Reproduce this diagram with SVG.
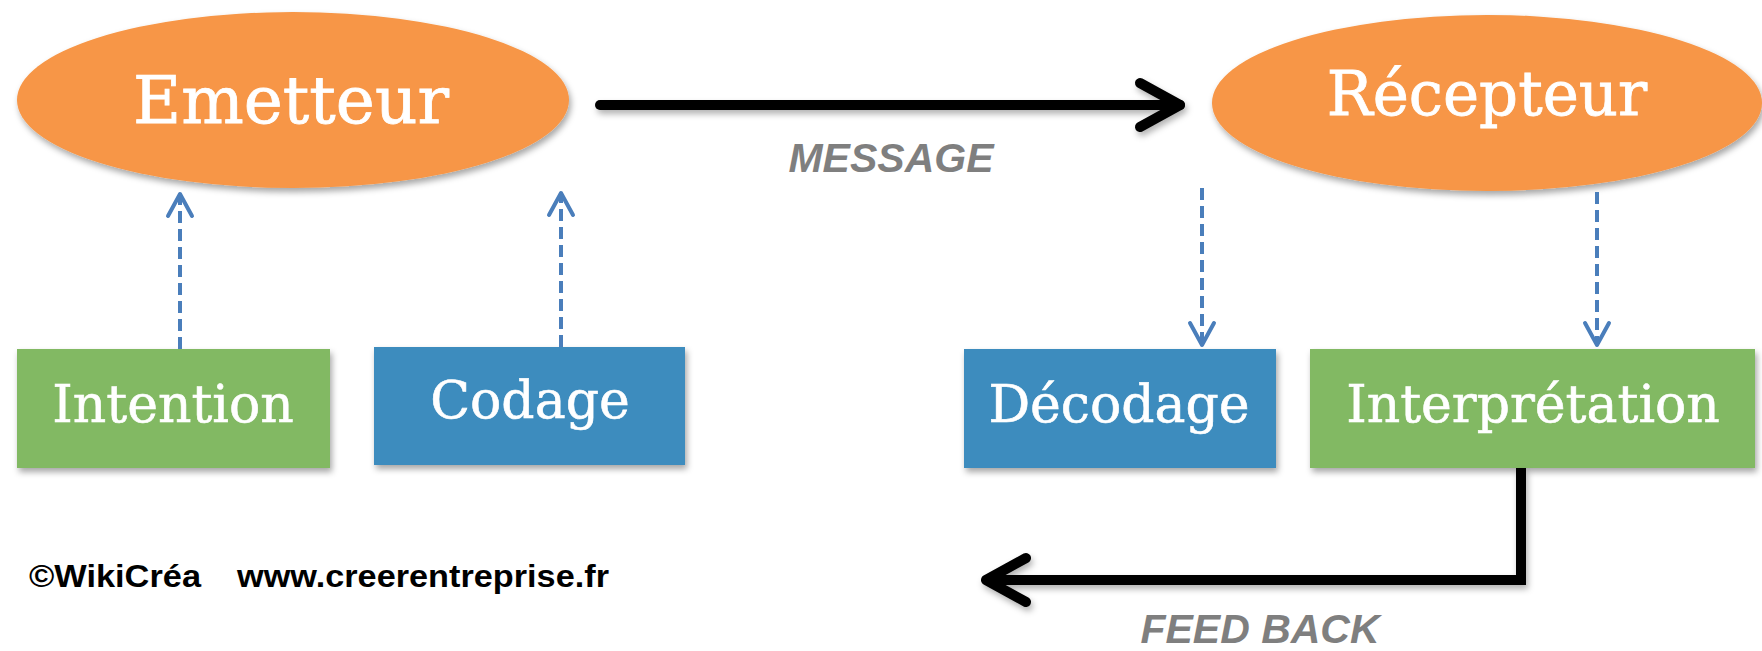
<svg xmlns="http://www.w3.org/2000/svg" width="1762" height="651" viewBox="0 0 1762 651">
<style>
.ell{fill:#f79646;filter:url(#sh)}
.box{filter:url(#sh)}
.green{fill:#82b964}
.blue{fill:#3d8cbe}
.big{font-family:"DejaVu Serif","Liberation Serif",serif;fill:#ffffff;stroke:#ffffff;stroke-width:0.8;text-anchor:middle}
.lbl{font-family:"DejaVu Serif","Liberation Serif",serif;font-size:52px;fill:#ffffff;stroke:#ffffff;stroke-width:0.6;text-anchor:middle}
.cap{font-family:"Liberation Sans",Arial,sans-serif;font-weight:bold;font-style:italic;font-size:41px;fill:#7f7f7f;text-anchor:middle}
.foot{font-family:"Liberation Sans",Arial,sans-serif;font-weight:bold;font-size:32px;fill:#000000}
.dash{stroke:#4a7ebb;stroke-width:4;stroke-dasharray:12 6;fill:none}
.thick{stroke:#000000;stroke-width:10;fill:none;filter:url(#sh2)}
</style>
<defs>
<filter id="sh" x="-10%" y="-10%" width="125%" height="130%">
<feDropShadow dx="2" dy="4" stdDeviation="3" flood-color="#000000" flood-opacity="0.35"/>
</filter>
<filter id="sh2" filterUnits="userSpaceOnUse" x="0" y="0" width="1762" height="651">
<feDropShadow dx="2" dy="4" stdDeviation="3" flood-color="#000000" flood-opacity="0.3"/>
</filter>
<marker id="blk" markerUnits="userSpaceOnUse" viewBox="-50 -30 60 60" markerWidth="60" markerHeight="60" refX="0" refY="0" orient="auto" overflow="visible">
<path d="M-40,-22 L0,0 L-40,22" fill="none" stroke="#000000" stroke-width="10" stroke-linecap="round" stroke-linejoin="round"/>
</marker>
<marker id="blu" markerUnits="userSpaceOnUse" viewBox="-30 -16 36 32" markerWidth="36" markerHeight="32" refX="0" refY="0" orient="auto" overflow="visible">
<path d="M-22,-12 L0,0 L-22,12" fill="none" stroke="#4a7ebb" stroke-width="4" stroke-linecap="round" stroke-linejoin="round"/>
</marker>
</defs>
<rect x="0" y="0" width="1762" height="651" fill="#ffffff"/>

<g id="emetteur">
<ellipse class="ell" cx="293" cy="100" rx="276" ry="88"/>
<text class="big" x="291" y="123" font-size="66">Emetteur</text>
</g>
<g id="recepteur">
<ellipse class="ell" cx="1487" cy="103" rx="275" ry="88"/>
<text class="big" x="1487" y="115" font-size="61">Récepteur</text>
</g>
<g id="intention">
<rect class="box green" x="17" y="349" width="313" height="119"/>
<text class="lbl" x="173" y="422">Intention</text>
</g>
<g id="codage">
<rect class="box blue" x="374" y="347" width="311" height="118"/>
<text class="lbl" x="530" y="418">Codage</text>
</g>
<g id="decodage">
<rect class="box blue" x="964" y="349" width="312" height="119"/>
<text class="lbl" x="1119" y="422">Décodage</text>
</g>
<g id="interpretation">
<rect class="box green" x="1310" y="349" width="445" height="119"/>
<text class="lbl" x="1533" y="422">Interprétation</text>
</g>

<g id="connectors">
<line class="thick" x1="600" y1="105" x2="1180" y2="105" stroke-linecap="round" marker-end="url(#blk)"/>
<path class="thick" d="M1521,468 V580 H986" stroke-linejoin="miter" marker-end="url(#blk)"/>
<line class="dash" x1="180" y1="349" x2="180" y2="194" marker-end="url(#blu)"/>
<line class="dash" x1="561" y1="347" x2="561" y2="193" marker-end="url(#blu)"/>
<line class="dash" x1="1202" y1="188" x2="1202" y2="345" marker-end="url(#blu)"/>
<line class="dash" x1="1597" y1="192" x2="1597" y2="345" marker-end="url(#blu)"/>
</g>

<g id="labels">
<text class="cap" x="891" y="172">MESSAGE</text>
<text class="cap" x="1260" y="643">FEED BACK</text>
<text class="foot" x="29" y="587" textLength="172" lengthAdjust="spacingAndGlyphs">©WikiCréa</text>
<text class="foot" x="237" y="587" textLength="372" lengthAdjust="spacingAndGlyphs">www.creerentreprise.fr</text>
</g>
</svg>
